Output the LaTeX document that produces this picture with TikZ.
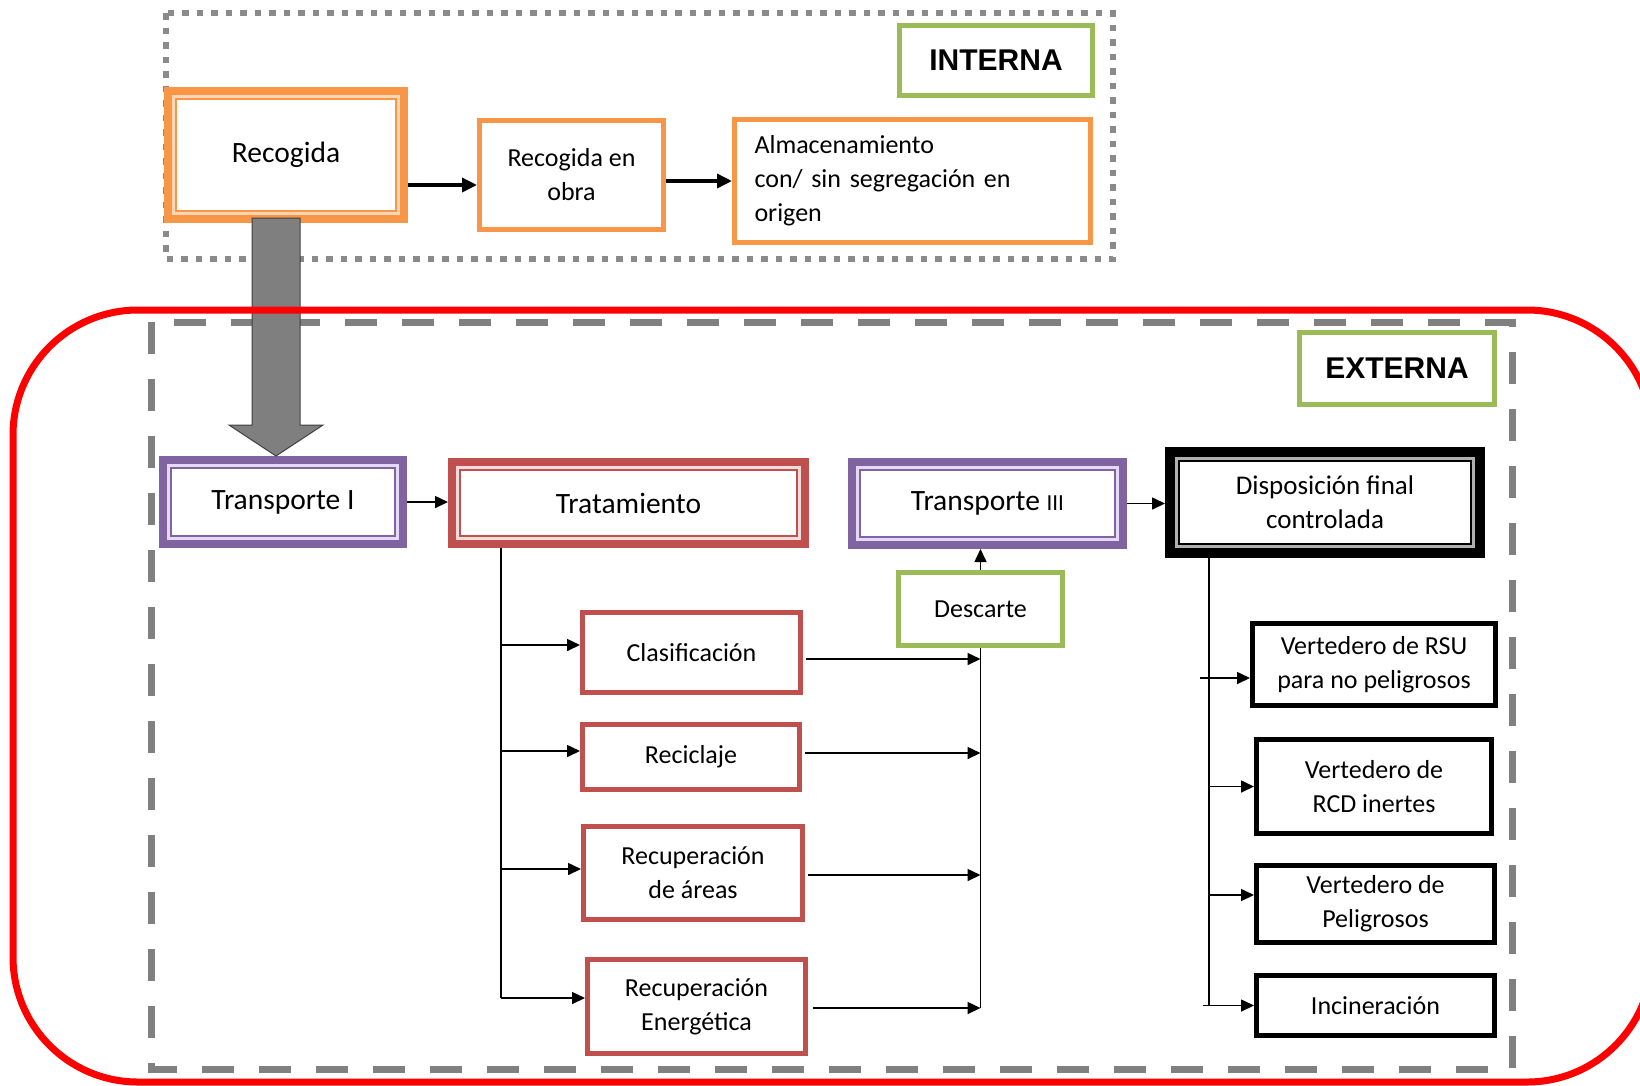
\documentclass[tikz,border=0pt]{standalone}
\usepackage{fontspec}
\setmainfont{Carlito}
\newfontfamily\headfont{Liberation Sans}
\usetikzlibrary{arrows.meta,calc}

\definecolor{cOrange}{HTML}{F79646}
\definecolor{cOrangeP}{HTML}{FCD5B5}
\definecolor{cPurple}{HTML}{8064A2}
\definecolor{cPurpleP}{HTML}{E6D9F7}
\definecolor{cRed}{HTML}{C0504D}
\definecolor{cRedP}{HTML}{F2DCDB}
\definecolor{cGreen}{HTML}{9BBB59}
\definecolor{cGray}{HTML}{808080}
\definecolor{cDot}{HTML}{8A8A8A}
\definecolor{cArrow}{HTML}{7F7F7F}
\definecolor{cBlackP}{HTML}{B0B0B0}

\begin{document}
\begin{tikzpicture}[x=1pt,y=-1pt,
  lbl/.style={font=\fontsize{26}{34}\selectfont},
  big/.style={font=\fontsize{29.5}{34}\selectfont},
  head/.style={font=\headfont\bfseries\fontsize{30}{34}\selectfont},
  plain/.style={draw=#1, line width=5pt, inner sep=0pt, align=center, fill=white, lbl},
  dbl/.style n args={5}{draw=#1, line width=#3, inner sep=0pt, align=center, fill=white, big,
    path picture={
      \draw[#2, line width=3pt]
        ([shift={(#4,#4)}]path picture bounding box.south west) rectangle
        ([shift={(-#4,-#4)}]path picture bounding box.north east);
      \draw[#1, line width=1.8pt]
        ([shift={(#5,#5)}]path picture bounding box.south west) rectangle
        ([shift={(-#5,-#5)}]path picture bounding box.north east);
    }},
  arr/.style={-{Triangle[length=13pt,width=12pt]}, line width=1.6pt, black},
  arrthick/.style={-{Triangle[length=15pt,width=14pt]}, line width=3.5pt, black},
  trunk/.style={line width=1.6pt, black},
  bigarrow/.style={fill=cArrow, draw=black!75, line width=1pt, line join=miter},
]
\useasboundingbox (0,0) rectangle (1640,1085);
\clip (0,0) rectangle (1640,1085);

% region outlines
\draw[cDot, line width=6pt, dash pattern=on 6.5pt off 8pt] (166,13) rectangle (1113,259);
\draw[cGray, line width=7pt, dash pattern=on 32pt off 25pt] (151,322) rectangle (1512,1069);

% internal stage
\node[dbl={cOrange}{cOrangeP}{8pt}{5.5pt}{8pt}, minimum width=236pt, minimum height=128pt] (rec) at (286,155) {Recogida};
\node[plain=cOrange, minimum width=184pt, minimum height=109pt] (reo) at (571.5,175) {Recogida en\\obra};
\node[plain=cOrange, minimum width=356pt, minimum height=123pt, text width=316pt, align=left] (alm) at (912.5,181)
  {Almacenamiento\\con/ sin segregación en\\origen};
\node[plain=cGreen, head, minimum width=193pt, minimum height=70pt] (int) at (996,60.5) {INTERNA};

% external stage
\node[plain=cGreen, head, minimum width=195pt, minimum height=72pt] (ext) at (1397,368.5) {EXTERNA};
\node[dbl={cPurple}{cPurpleP}{8pt}{5.5pt}{8pt}, minimum width=240pt, minimum height=84pt] (t1) at (283,502) {Transporte I};
\node[dbl={cRed}{cRedP}{8pt}{5.5pt}{8pt}, minimum width=353pt, minimum height=82pt] (trat) at (628.5,503) {Tratamiento};
\node[dbl={cPurple}{cPurpleP}{8pt}{5.5pt}{8pt}, minimum width=271pt, minimum height=83pt] (t3) at (987.5,503.5)
  {Transporte {\fontsize{23}{26}\selectfont III}};
\node[dbl={black}{cBlackP}{10pt}{6.5pt}{9pt}, minimum width=310pt, minimum height=101pt, font=\fontsize{27}{34}\selectfont] (disp) at (1325,502.5)
  {Disposición final\\controlada};
\node[plain=cGreen, minimum width=164pt, minimum height=73pt] (desc) at (980.5,609) {Descarte};

\node[plain=cRed, minimum width=218pt, minimum height=80pt] (clas) at (691.5,652.5) {Clasificación};
\node[plain=cRed, minimum width=217pt, minimum height=65pt] (reci) at (691,757) {Reciclaje};
\node[plain=cRed, minimum width=219pt, minimum height=93pt] (area) at (693,873) {Recuperación\\de áreas};
\node[plain=cRed, minimum width=218pt, minimum height=94pt] (ener) at (696.5,1006.5) {Recuperación\\Energética};

\node[plain=black, minimum width=243pt, minimum height=82pt] (rsu) at (1374,664.5) {Vertedero de RSU\\para no peligrosos};
\node[plain=black, minimum width=235pt, minimum height=94pt] (rcd) at (1374,786.5) {Vertedero de\\RCD inertes};
\node[plain=black, minimum width=238pt, minimum height=77pt] (pel) at (1375.5,904) {Vertedero de\\Peligrosos};
\node[plain=black, minimum width=238pt, minimum height=60pt] (inc) at (1375.5,1005.5) {Incineración};

% connectors of the internal stage
\draw[arrthick] ([yshift=-30pt]rec.east) -- ([yshift=-10pt]reo.west);
\draw[arrthick] (reo.east |- alm.west) -- (alm.west);

% main chain of the external stage
\draw[arr] (t1.east) -- (t1.east -| trat.west);
\draw[arr] (t3.east) -- (t3.east -| disp.west);
\draw[arr] (desc.north) -- (desc.north |- t3.south);

% treatment branches
\coordinate (tk) at (501,0);
\path ([yshift=7.5pt]clas.west) coordinate (cl1)
      ([yshift=6pt]reci.west) coordinate (rl1)
      ([yshift=4pt]area.west) coordinate (al1)
      ([yshift=8.5pt]ener.west) coordinate (el1);
\draw[trunk] (tk |- trat.south) -- (tk |- el1);
\draw[arr] (tk |- cl1) -- (cl1);
\draw[arr] (tk |- rl1) -- (rl1);
\draw[arr] (tk |- al1) -- (al1);
\draw[arr] (tk |- el1) -- (el1);

% outputs gathered towards the discard step
\path ([xshift=3pt,yshift=-6.5pt]clas.east) coordinate (cr1)
      ([xshift=3pt,yshift=4pt]reci.east) coordinate (rr1)
      ([xshift=3pt,yshift=-2pt]area.east) coordinate (ar1)
      ([xshift=5pt,yshift=-1.5pt]ener.east) coordinate (er1);
\draw[trunk] (desc.south) -- (desc.south |- er1);
\draw[arr] (cr1) -- (cr1 -| desc.south);
\draw[arr] (rr1) -- (rr1 -| desc.south);
\draw[arr] (ar1) -- (ar1 -| desc.south);
\draw[arr] (er1) -- (er1 -| desc.south);

% final disposal branches
\coordinate (dk) at (1209,0);
\path ([yshift=-13.5pt]rsu.west) coordinate (v1)
      (rcd.west) coordinate (v2)
      ([yshift=9pt]pel.west) coordinate (v3)
      (inc.west) coordinate (v4);
\draw[trunk] (dk |- disp.south) -- (dk |- v4);
\draw[arr] ([xshift=-9pt]dk |- v1) -- (v1);
\draw[arr] (dk |- v2) -- (v2);
\draw[arr] (dk |- v3) -- (v3);
\draw[arr] ([xshift=-6pt]dk |- v4) -- (v4);

% block arrow from collection to transport
\coordinate (ax) at (276,0);
\draw[bigarrow] let \p1=(ax |- rec.south), \p2=(ax |- t1.north) in
  (\x1-24pt,\y1+5pt) -- (\x1+24pt,\y1+5pt) -- (\x1+24pt,\y2+31pt) -- (\x1+47pt,\y2+31pt)
  -- (\x2,\y2) -- (\x1-47pt,\y2+31pt) -- (\x1-24pt,\y2+31pt) -- cycle;

% outer frame of the external stage
\draw[red, line width=7pt, rounded corners=125pt] (13,310) rectangle (1652,1082);
\end{tikzpicture}
\end{document}
